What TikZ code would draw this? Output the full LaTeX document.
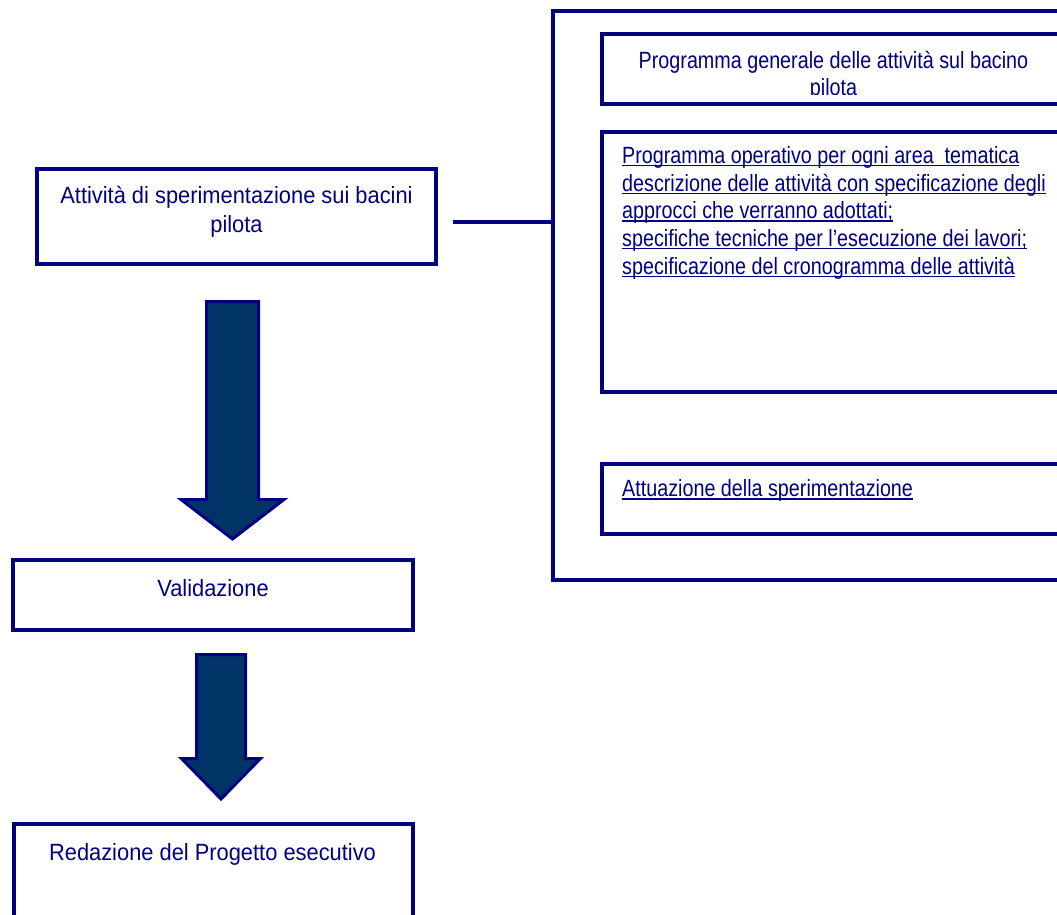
\documentclass[tikz,border=0pt]{standalone}
\usepackage{fontspec}
\setmainfont{Liberation Sans}[FakeStretch=0.84]
\newfontfamily\widefont{Liberation Sans}[FakeStretch=0.93]
\definecolor{navyline}{HTML}{000080}
\definecolor{arrowfill}{HTML}{003366}
\newcommand\ulin[1]{\setbox0\hbox{#1}\rlap{\rule[-3pt]{\wd0}{1.5pt}}\box0}

\begin{document}
\begin{tikzpicture}[
    x=1pt, y=-1pt,
    box/.style={rectangle, draw=navyline, line width=4pt, inner sep=0pt},
    lbl/.style={font=\fontsize{23.5}{27.7}\selectfont, text=navyline, inner sep=0pt},
    widelbl/.style={lbl, font=\widefont\fontsize{23.5}{27.7}\selectfont},
    link/.style={draw=navyline, line width=3.5pt},
    bigarr/.style={draw=navyline, fill=arrowfill, line width=3pt, line join=miter},
  ]
  \useasboundingbox (0,0) rectangle (1057,915);
  \clip (0,0) rectangle (1057,915);

  % === Left column ===
  \node[box, minimum width=399pt, minimum height=95pt]  (att) at (236,216) {};
  \node[widelbl, anchor=base] at (236.5,203.5) {Attività di sperimentazione sui bacini};
  \node[widelbl, anchor=base] at (236.5,232) {pilota};

  \node[box, minimum width=400pt, minimum height=70pt]  (val) at (212.5,594.5) {};
  \node[widelbl, anchor=base] at (213,596) {Validazione};

  \node[box, minimum width=399pt, minimum height=107pt] (red) at (213,877) {};
  \node[widelbl, anchor=base] at (212.5,860) {Redazione del Progetto esecutivo};

  % Block arrows
  \draw[bigarr] (206.5,301.5) -- (258.5,301.5) -- (258.5,499.5) -- (284,499.5)
    -- (232.5,539) -- (181,499.5) -- (206.5,499.5) -- cycle;
  \draw[bigarr] (196.5,654.5) -- (245.5,654.5) -- (245.5,758.5) -- (260.5,758.5)
    -- (221,799) -- (181.5,758.5) -- (196.5,758.5) -- cycle;

  % === Right container ===
  \node[box, minimum width=547.5pt, minimum height=568pt] (cont) at (826.25,295.5) {};

  % Link
  \coordinate (linkstart) at (453,222);
  \draw[link] (linkstart) -- (linkstart -| cont.west);

  % Programma generale
  \node[box, minimum width=463.5pt, minimum height=69.5pt] (gen) at (834,69) {};
  \begin{scope}
    \clip (604,36) rectangle (1064,95);
    \node[lbl, anchor=base] at (833.5,68.3) {Programma generale delle attività sul bacino};
    \node[lbl, anchor=base] at (833.5,96) {pilota};
  \end{scope}

  % Programma operativo
  \node[box, minimum width=463.5pt, minimum height=260.5pt] (oper) at (834,262) {};
  \foreach \t [count=\i] in {Programma operativo per ogni area \ tematica,
      descrizione delle attività con specificazione degli,
      approcci che verranno adottati;,
      specifiche tecniche per l’esecuzione dei lavori;,
      specificazione del cronogramma delle attività}
    \node[lbl, anchor=base west] at (622,163.3+27.7*\i-27.7) {\ulin{\t}};

  % Attuazione
  \node[box, minimum width=463.5pt, minimum height=69.5pt] (attu) at (834,499) {};
  \node[lbl, anchor=base west] at (622,496.7) {\ulin{Attuazione della sperimentazione}};

\end{tikzpicture}
\end{document}
